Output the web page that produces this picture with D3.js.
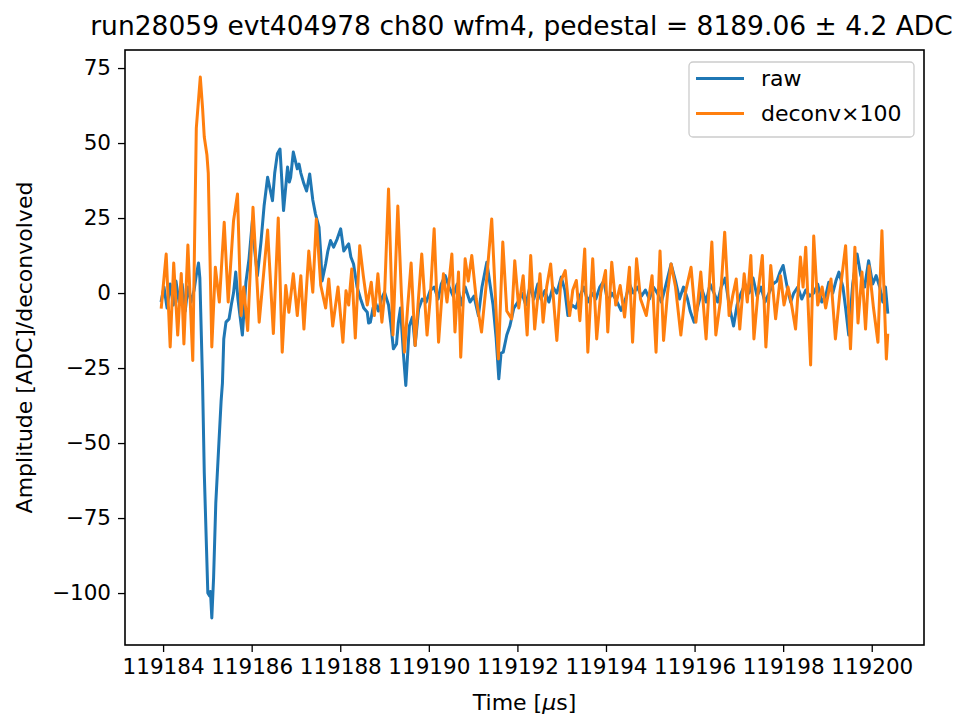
<!DOCTYPE html>
<html>
<head>
<meta charset="utf-8">
<script src="https://cdn.jsdelivr.net/npm/d3@7"></script>
<style>
  html, body { margin: 0; padding: 0; background: #fff; }
  svg { display: block; font-family: "DejaVu Sans", sans-serif; }
</style>
</head>
<body>
<div id="chart"></div>
<script>
// times are µs after T0
const T0 = 119184;
const titleText = 'run28059 evt404978 ch80 wfm4, pedestal = 8189.06 ± 4.2 ADC';
const seriesNames = ['raw', 'deconv×100'];
const xTicks = [119184, 119186, 119188, 119190, 119192, 119194, 119196, 119198, 119200];
const yTicks = [-100, -75, -50, -25, 0, 25, 50, 75];

const rawT = [-0.04, 0.02, 0.09, 0.16, 0.23, 0.29, 0.36, 0.43, 0.50, 0.56, 0.63, 0.70, 0.75, 0.80, 0.83,
  0.89, 0.93, 0.98, 1.01, 1.05, 1.07, 1.10, 1.14, 1.19, 1.26, 1.31, 1.34, 1.37, 1.42, 1.49, 1.54,
  1.59, 1.64, 1.69, 1.74, 1.79, 1.87, 1.94, 2.02, 2.07, 2.13, 2.21, 2.28, 2.36, 2.41, 2.47, 2.52,
  2.58, 2.64, 2.72, 2.81, 2.85, 2.88, 2.94, 3.03, 3.07, 3.11, 3.18, 3.24, 3.31, 3.38, 3.44, 3.52,
  3.56, 3.59, 3.67, 3.72, 3.78, 3.85, 3.93, 4.01, 4.08, 4.16, 4.19, 4.24, 4.30, 4.38, 4.46, 4.53,
  4.61, 4.64, 4.68, 4.74, 4.79, 4.86, 4.93, 5.00, 5.09, 5.14, 5.20, 5.27, 5.31, 5.36, 5.43, 5.48,
  5.56, 5.63, 5.69, 5.77, 5.85, 5.94, 6.03, 6.12, 6.21, 6.28, 6.37, 6.46, 6.55, 6.64, 6.73, 6.82,
  6.93, 7.02, 7.12, 7.20, 7.31, 7.38, 7.45, 7.52, 7.58, 7.63, 7.68, 7.76, 7.83, 7.92, 8.01, 8.10,
  8.19, 8.28, 8.37, 8.46, 8.53, 8.62, 8.71, 8.80, 8.89, 8.99, 9.07, 9.14, 9.23, 9.32, 9.41, 9.50,
  9.59, 9.68, 9.77, 9.86, 9.95, 10.04, 10.13, 10.22, 10.34, 10.44, 10.53, 10.62, 10.71, 10.80, 10.89,
  10.98, 11.07, 11.16, 11.25, 11.34, 11.47, 11.57, 11.66, 11.75, 11.84, 11.90, 11.99, 12.08, 12.17,
  12.26, 12.35, 12.44, 12.52, 12.60, 12.69, 12.78, 12.88, 12.96, 13.05, 13.14, 13.23, 13.32, 13.41,
  13.50, 13.59, 13.68, 13.77, 13.86, 13.93, 14.00, 14.09, 14.17, 14.24, 14.33, 14.42, 14.51, 14.60,
  14.69, 14.78, 14.87, 14.96, 15.03, 15.12, 15.19, 15.26, 15.35, 15.41, 15.48, 15.57, 15.67, 15.75,
  15.84, 15.93, 16.02, 16.10, 16.18, 16.25, 16.31, 16.36];
const rawV = [-2.5, 2, -5, 3, -4, 4, -3, 3, -6, 2, -3, 1, 6, 10, 5,
  -29, -60, -85, -100, -101, -99.5, -108.3, -95, -70, -50, -36, -30, -15.3, -9.7, -8.6, -4,
  0, 7, -2, -8, -14, 3.6, 11.4, 24.7, 14, 5.8, 17, 29, 38.6, 35, 30.8, 40,
  46.4, 48, 27.5, 42, 37, 38.6, 47, 41.4, 43, 40, 36.4, 34, 39.7, 31, 26.4, 22,
  13, 4, 9.7, 14, 17.5, 15.3, 18, 21.4, 14, 15.8, 16.4, 12, 9.7, 2, -2, -5,
  -6.4, -10, -9.7, -5, -3, -6, -2, 0.3, -4, -10, -18.6, -17, -10, -5, -21, -30.8,
  -11, -8, -17.5, -5.3, -2, -3, 0.8, 2, -2, 3, 5.8, 2, -1, 3, -4, 2,
  -3, -1, -7.5, 2, 10.3, 3, -4, -15, -28.6, -20, -19.7, -14, -11, -5, -3, 0,
  -4, 2, -2, 3, -2, 0.8, -3, 2, 0, 5.3, 1, -7.5, -4, -5, -1, 2,
  -3, 0, -2, 2, 4, -3, 0, -2, -5.8, -2, 3, 0, 2, -1, 1,
  -2, 2, 0, -3, 2, 9.7, 4, -2, 2, -2, -6, -9.7, -4, 1,
  -3, 3, 0, -3, 2, 5, -4, -11, -4, 0, 3, 0, 5, -1,
  2, -3, 0, 3, 4, 7, 9.2, 2, -3, 0, 2, -2, 1, -1,
  0, 3, -3, -1, 3.6, 0, 4, 7, 2, -5, -14, 3, 13, 6,
  2, 10.8, 3, 5.8, 2, -3, 2, -6.4];

const deconvT = [-0.04, 0.07, 0.16, 0.24, 0.33, 0.41, 0.47, 0.56, 0.67, 0.75, 0.84, 0.89, 0.93, 0.99,
  1.02, 1.10, 1.18, 1.27, 1.38, 1.47, 1.59, 1.68, 1.76, 1.82, 1.91, 2.03, 2.17, 2.36, 2.49, 2.60,
  2.69, 2.77, 2.84, 2.94, 3.03, 3.11, 3.18, 3.29, 3.38, 3.46, 3.56, 3.67, 3.74, 3.83, 3.95, 4.06,
  4.13, 4.19, 4.26, 4.34, 4.44, 4.52, 4.61, 4.70, 4.77, 4.85, 4.94, 5.00, 5.09, 5.19, 5.30, 5.38,
  5.45, 5.52, 5.60, 5.69, 5.76, 5.84, 5.96, 6.03, 6.12, 6.22, 6.33, 6.41, 6.52, 6.59, 6.67, 6.72,
  6.82, 6.89, 6.97, 7.07, 7.19, 7.29, 7.42, 7.57, 7.67, 7.76, 7.87, 7.94, 8.03, 8.13, 8.22, 8.30,
  8.39, 8.51, 8.58, 8.66, 8.75, 8.89, 8.98, 9.08, 9.18, 9.25, 9.33, 9.41, 9.52, 9.59, 9.70, 9.79,
  9.88, 9.99, 10.04, 10.13, 10.22, 10.32, 10.42, 10.53, 10.60, 10.69, 10.78, 10.91, 11.04, 11.13,
  11.22, 11.30, 11.39, 11.47, 11.57, 11.69, 11.79, 11.92, 12.03, 12.14, 12.26, 12.39, 12.48, 12.58,
  12.68, 12.78, 12.86, 12.94, 13.02, 13.12, 13.19, 13.27, 13.34, 13.43, 13.53, 13.61, 13.72, 13.83,
  13.94, 14.02, 14.11, 14.18, 14.28, 14.39, 14.45, 14.51, 14.62, 14.69, 14.78, 14.88, 14.96, 15.08,
  15.18, 15.28, 15.41, 15.52, 15.62, 15.69, 15.78, 15.86, 15.94, 16.04, 16.14, 16.23, 16.33, 16.36];
const deconvV = [-4.7, 13, -18, 10, -14, 6.5, -17, 16, -22.5, 55, 72, 62, 52, 46,
  40, -18, 8.6, -3, 23.6, -3, 24, 33, -7.5, 2, -12.5, 28.6, -9.7, 21, -13.5, 25,
  -19.7, 2.5, -6.4, 6.4, -7.5, 5.8, -12, 14, 0.3, 24.7, 2.5, -5, 4.7, -11, 2, -16.4,
  0.8, -4, 8, -15, 15.8, 5.8, -4, 3.6, -7.5, 6.4, -9.7, -0.8, 34.7, -14, 29, 0,
  -19.7, -5, 10, -17.5, -3, 13, -14, -2, 21.4, -16.4, 6.4, -3, 13, -13, 7, -21.4,
  11.4, 4, 12.5, -2, -13, 2, 24.7, -22, 17, -6, -8.6, 10.8, -5, 5.8, -14, 12.5,
  -12, 6.4, -9.7, 2, 9.7, -15.8, 4, 7.5, -7.5, 1, 4.2, -9.2, 14.7, -19.7, 11.4, -15.3,
  0, 7.5, -13, 10.3, -4, 2.5, -8, 8.6, -16.4, 11.4, -2, -7.5, 5.8, -19.7,
  14, -15.8, 0, 9.7, 2, -14, 0, 8.6, -9.7, 7, -15.3, 17, -14, -3,
  20.3, -7.5, -1, 4.7, -12, 6.4, -3, 12.5, -15.3, 0, 12.5, -18, 9.2, -8.6,
  5.8, -4, 2, -3, -12, 12, 2, 15.3, -24, 19, -4, 2, -5, 4.7,
  -15.3, 0, 15.8, -18.6, 15.3, -10, 7, -12, 9, -5, -16.4, 20.8, -22, -14];

const W = 966, H = 717;
const margin = { top: 50, right: 42, bottom: 72, left: 125 };
const innerW = W - margin.left - margin.right;
const innerH = H - margin.top - margin.bottom;
const colors = ['#1f77b4', '#ff7f0e'];
const FONT = '"DejaVu Sans", sans-serif';

const svg = d3.select('#chart').append('svg')
  .attr('width', W).attr('height', H);

const g = svg.append('g').attr('transform', `translate(${margin.left},${margin.top})`);

const raw = rawT.map((t, i) => ({ t: T0 + t, v: rawV[i] }));
const deconv = deconvT.map((t, i) => ({ t: T0 + t, v: deconvV[i] }));
const all = raw.concat(deconv);

// matplotlib-style 5% margins
const xExt = d3.extent(all, (d) => d.t);
const yExt = d3.extent(all, (d) => d.v);
const xPad = (xExt[1] - xExt[0]) * 0.05;
const yPad = (yExt[1] - yExt[0]) * 0.05;

const xScale = d3.scaleLinear().domain([xExt[0] - xPad, xExt[1] + xPad]).range([0, innerW]);
const yScale = d3.scaleLinear().domain([yExt[0] - yPad, yExt[1] + yPad]).range([innerH, 0]);

const line = d3.line().x((d) => xScale(d.t)).y((d) => yScale(d.v));

[raw, deconv].forEach((s, i) => {
  g.append('path').datum(s)
    .attr('fill', 'none')
    .attr('stroke', colors[i])
    .attr('stroke-width', 3)
    .attr('stroke-linejoin', 'round')
    .attr('stroke-linecap', 'square')
    .attr('d', line);
});

const xAxisG = g.append('g').attr('transform', `translate(0,${innerH})`)
  .call(d3.axisBottom(xScale).tickValues(xTicks).tickFormat(d3.format('d')).tickSize(7).tickPadding(7));
const yAxisG = g.append('g')
  .call(d3.axisLeft(yScale).tickValues(yTicks).tickFormat(d3.format('d')).tickSize(7).tickPadding(7));
[xAxisG, yAxisG].forEach((ax) => {
  ax.attr('font-family', FONT).attr('font-size', 21.5);
  ax.select('.domain').remove();
  ax.selectAll('line').attr('stroke', '#000').attr('stroke-width', 1.3);
  ax.selectAll('text').attr('fill', '#000');
});

g.append('rect').attr('width', innerW).attr('height', innerH)
  .attr('fill', 'none').attr('stroke', '#000').attr('stroke-width', 1.6);

svg.append('text').attr('x', margin.left + innerW / 2 - 3).attr('y', 35)
  .attr('text-anchor', 'middle').attr('font-size', 26.5).text(titleText);

const xl = svg.append('text').attr('x', margin.left + innerW / 2).attr('y', 710)
  .attr('text-anchor', 'middle').attr('font-size', 22);
xl.append('tspan').text('Time [');
xl.append('tspan').attr('font-style', 'italic').text('μ');
xl.append('tspan').text('s]');

svg.append('text').attr('transform', `translate(32,${margin.top + innerH / 2}) rotate(-90)`)
  .attr('text-anchor', 'middle').attr('font-size', 22).text('Amplitude [ADC]/deconvolved');

// legend
const lg = svg.append('g').attr('transform', 'translate(689,62)');
lg.append('rect').attr('width', 225).attr('height', 75).attr('rx', 4)
  .attr('fill', '#fff').attr('fill-opacity', 0.8)
  .attr('stroke', '#ccc').attr('stroke-width', 1.3);
seriesNames.forEach((name, i) => {
  const y = 16.5 + i * 35;
  lg.append('line').attr('x1', 7).attr('x2', 55).attr('y1', y).attr('y2', y)
    .attr('stroke', colors[i]).attr('stroke-width', 3);
  lg.append('text').attr('x', 72).attr('y', y).attr('dy', '0.35em')
    .attr('font-size', 22).text(name);
});
</script>
</body>
</html>
